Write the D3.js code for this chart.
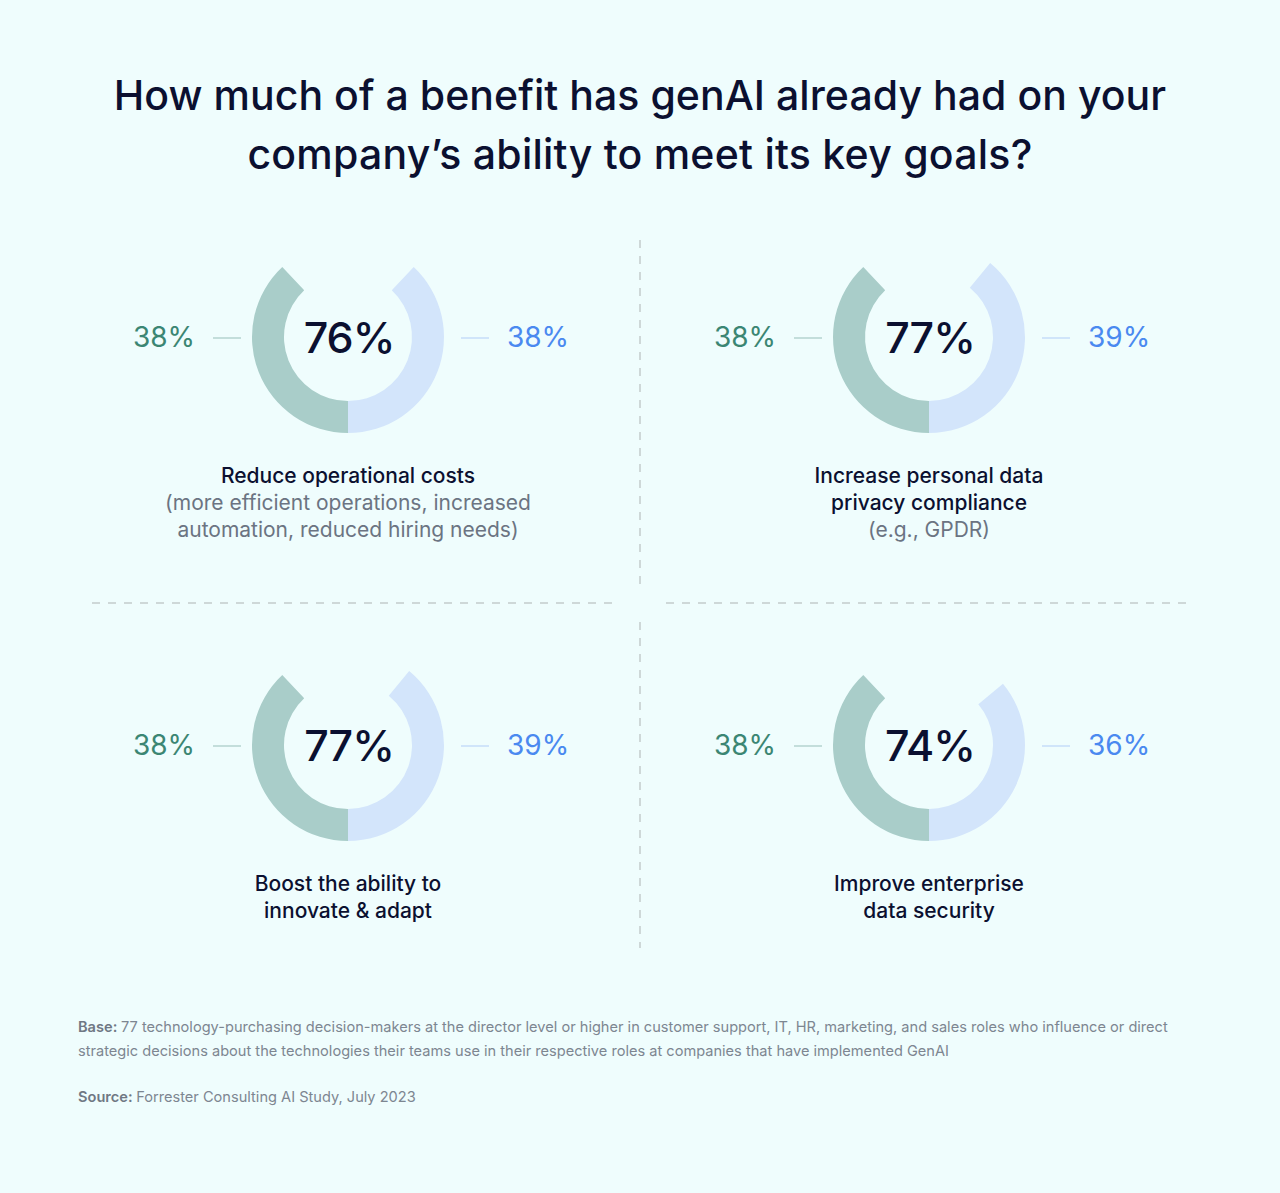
<!DOCTYPE html>
<html><head><meta charset="utf-8">
<script src="https://cdn.jsdelivr.net/npm/d3@7"></script>
<style>
html,body{margin:0;padding:0;background:#effdfd;}
svg{display:block;font-family:Inter,"Noto Sans",sans-serif;}
</style></head>
<body><svg id="c" width="1280" height="1193"></svg>
<script>
const titleLines = ["How much of a benefit has genAI already had on your", "company’s ability to meet its key goals?"];
const categories = ["Reduce operational costs", "Increase personal data privacy compliance", "Boost the ability to innovate & adapt", "Improve enterprise data security"];
const totals = [76, 77, 77, 74];
const leftValues = [38, 38, 38, 38];
const rightValues = [38, 39, 39, 36];
const labelDark = [["Reduce operational costs"], ["Increase personal data", "privacy compliance"], ["Boost the ability to", "innovate & adapt"], ["Improve enterprise", "data security"]];
const labelGray = [["(more efficient operations, increased", "automation, reduced hiring needs)"], ["(e.g., GPDR)"], [], []];
const baseNote = ["77 technology-purchasing decision-makers at the director level or higher in customer support, IT, HR, marketing, and sales roles who influence or direct", "strategic decisions about the technologies their teams use in their respective roles at companies that have implemented GenAI"];
const sourceNote = "Forrester Consulting AI Study, July 2023";

const svg = d3.select("#c");
const W = 1280;
const dark = "#0b1030", gray = "#6b7482";
const greenArc = "#a9cdc9", blueArc = "#d3e5fb", greenText = "#3b8673", blueText = "#4a89f0";

// Title
svg.selectAll("text.title").data(titleLines).join("text")
  .attr("x", W/2).attr("y", (d,i)=>96 + i*59).attr("dy","0.35em")
  .attr("text-anchor","middle").attr("font-size",41).attr("font-weight",500)
  .attr("letter-spacing",(d,i)=>i===1?0.25:0.05)
  .attr("fill",dark).text(d=>d);

// Dividers
const dash = {stroke:"#c3cbcc", "stroke-width":1.5, "stroke-dasharray":"8,8"};
function line(x1,y1,x2,y2){ const l=svg.append("line").attr("x1",x1).attr("y1",y1).attr("x2",x2).attr("y2",y2); Object.entries(dash).forEach(([k,v])=>l.attr(k,v)); }
line(640,240,640,586); line(640,622,640,948);
line(92,603,614,603); line(666,603,1192,603);

// Layout scales
const xPos = d3.scalePoint().domain([0,1]).range([348,929]);
const yPos = d3.scalePoint().domain([0,1]).range([337,745]);
const angle = d3.scaleLinear().domain([0,100]).range([0, 2*Math.PI]);
const arc = d3.arc().innerRadius(64).outerRadius(96);

categories.forEach((c,i)=>{
  const cx = xPos(i%2), cy = yPos(Math.floor(i/2));
  const g = svg.append("g").attr("transform",`translate(${cx},${cy})`);
  g.append("path").attr("d", arc({startAngle: Math.PI, endAngle: Math.PI + angle(leftValues[i])})).attr("fill",greenArc);
  g.append("path").attr("d", arc({startAngle: Math.PI - angle(rightValues[i]), endAngle: Math.PI})).attr("fill",blueArc);
  g.append("text").attr("x",1).attr("y",1).attr("dy","0.35em").attr("text-anchor","middle")
    .attr("font-size",43).attr("font-weight",500).attr("letter-spacing",-1).attr("fill",dark).text(totals[i]+"%");
  g.append("line").attr("x1",-135).attr("x2",-107).attr("y1",1).attr("y2",1).attr("stroke","#b5d3cf").attr("stroke-width",1.5);
  g.append("line").attr("x1",113).attr("x2",141).attr("y1",1).attr("y2",1).attr("stroke","#c6dcf8").attr("stroke-width",1.5);
  g.append("text").attr("x",-153).attr("y",0).attr("dy","0.35em").attr("text-anchor","end")
    .attr("font-size",28).attr("fill",greenText).text(leftValues[i]+"%");
  g.append("text").attr("x",159).attr("y",0).attr("dy","0.35em").attr("text-anchor","start")
    .attr("font-size",28).attr("fill",blueText).text(rightValues[i]+"%");
  const lines = labelDark[i].map(t=>({t,c:dark})).concat(labelGray[i].map(t=>({t,c:gray})));
  lines.forEach((l,j)=>{
    g.append("text").attr("x",0).attr("y",139 + j*27).attr("dy","0.35em").attr("text-anchor","middle")
      .attr("font-size",21).attr("font-weight", l.c===dark?500:400).attr("fill",l.c).text(l.t);
  });
});

// Footer
const ft = svg.append("g").attr("font-size",14.6).attr("fill","#7d8691");
baseNote.forEach((t,i)=>{
  const tx = ft.append("text").attr("x",78).attr("y",1027 + i*24).attr("dy","0.35em");
  if(i===0){ tx.append("tspan").attr("font-weight",600).attr("fill","#6f7884").text("Base: "); }
  tx.append("tspan").text(t);
});
const st = ft.append("text").attr("x",78).attr("y",1097).attr("dy","0.35em");
st.append("tspan").attr("font-weight",600).attr("fill","#6f7884").text("Source: ");
st.append("tspan").text(sourceNote);
</script></body></html>
